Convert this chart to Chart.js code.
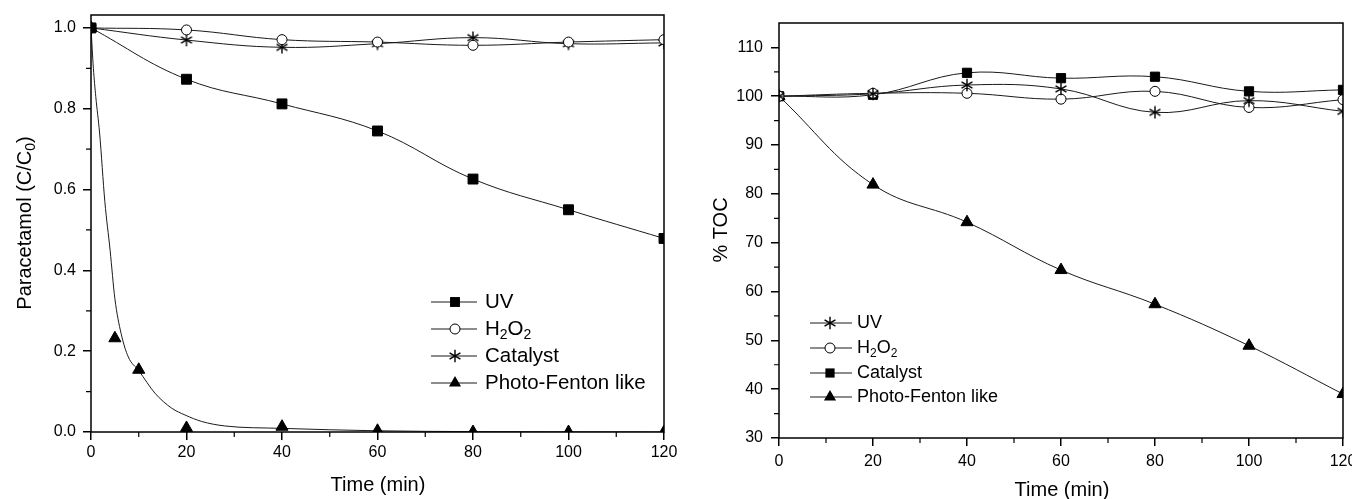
<!DOCTYPE html>
<html><head><meta charset="utf-8">
<script src="https://cdn.jsdelivr.net/npm/chart.js@4.4.0/dist/chart.umd.min.js"></script>
<style>
html,body{margin:0;padding:0;background:#fff;width:1352px;height:499px;overflow:hidden}
#wl{position:absolute;left:0;top:0;width:680px;height:499px}
#wr{position:absolute;left:680px;top:0;width:672px;height:499px}
</style></head><body>
<div id="wl"><canvas id="cl"></canvas></div>
<div id="wr"><canvas id="cr"></canvas></div>
<script>
// ---------- Left chart data ----------
const leftTime = [0, 20, 40, 60, 80, 100, 120];
const leftUV = [1.0, 0.873, 0.812, 0.745, 0.626, 0.550, 0.479];
const leftH2O2 = [1.0, 0.995, 0.971, 0.965, 0.957, 0.965, 0.971];
const leftCatalyst = [1.0, 0.970, 0.952, 0.961, 0.976, 0.961, 0.963];
const leftPFTime = [0, 5, 10, 20, 40, 60, 80, 100, 120];
const leftPF = [1.0, 0.232, 0.154, 0.010, 0.013, 0.003, 0.0, 0.0, 0.0];
const leftPFFitTime = [0, 0.5, 1, 1.8, 2.9, 4, 5, 6.3, 7.8, 10, 13.4, 16.9, 19.7, 23.2, 28, 40, 60, 80, 120];
const leftPFFit = [1.0, 0.90, 0.83, 0.74, 0.57, 0.45, 0.33, 0.244, 0.186, 0.152, 0.096, 0.059, 0.042, 0.026, 0.015, 0.009, 0.003, 0.001, 0.0];
const leftXTicks = [0, 20, 40, 60, 80, 100, 120];
const leftXMinor = [10, 30, 50, 70, 90, 110];
const leftYTicks = [0, 0.2, 0.4, 0.6, 0.8, 1.0];
const leftYTickLabels = ['0.0', '0.2', '0.4', '0.6', '0.8', '1.0'];
const leftYMinor = [0.1, 0.3, 0.5, 0.7, 0.9];

// ---------- Right chart data ----------
const rightTime = [0, 20, 40, 60, 80, 100, 120];
const rightUV = [100, 100.5, 102.3, 101.5, 96.7, 99.1, 96.9];
const rightH2O2 = [100, 100.6, 100.6, 99.4, 101.0, 97.7, 99.3];
const rightCatalyst = [100, 100.3, 104.8, 103.7, 104.0, 101.0, 101.3];
const rightPF = [100, 81.9, 74.2, 64.4, 57.4, 48.9, 39.0];
const rightXTicks = [0, 20, 40, 60, 80, 100, 120];
const rightXMinor = [10, 30, 50, 70, 90, 110];
const rightYTicks = [30, 40, 50, 60, 70, 80, 90, 100, 110];
const rightYMinor = [35, 45, 55, 65, 75, 85, 95, 105];

const FONT = "'Liberation Sans', Arial, sans-serif";

function makeStar(size, lw) {
  const c = document.createElement('canvas');
  c.width = c.height = size;
  const g = c.getContext('2d');
  g.strokeStyle = '#000'; g.lineWidth = lw;
  const cx = size / 2, cy = size / 2, r = size / 2 - 0.7;
  g.beginPath();
  for (const a of [90, 30, 150]) {
    const rad = a * Math.PI / 180;
    g.moveTo(cx + r * Math.cos(rad), cy - r * Math.sin(rad));
    g.lineTo(cx - r * Math.cos(rad), cy + r * Math.sin(rad));
  }
  g.stroke();
  return c;
}
const starL = makeStar(14, 1.4);
const starR = makeStar(14, 1.4);

function pts(xs, ys) { return xs.map((x, i) => ({ x: x, y: ys[i] })); }

const LINE = '#1a1a1a';
function series(data, style, opts) {
  return Object.assign({
    data: data, borderColor: LINE, borderWidth: 1, tension: 0.4, clip: 0,
    pointStyle: style, pointBorderColor: '#000', pointBackgroundColor: '#000',
    pointBorderWidth: 1, pointRadius: 6, pointHoverRadius: 6
  }, opts || {});
}

function drawParts(ctx, parts, x, y, size, align) {
  const sub = Math.round(size * 0.68);
  let w = 0;
  for (const p of parts) { ctx.font = (p[1] ? sub : size) + 'px ' + FONT; w += ctx.measureText(p[0]).width; }
  let cx = align === 'center' ? x - w / 2 : x;
  ctx.textAlign = 'left'; ctx.textBaseline = 'middle';
  for (const p of parts) {
    ctx.font = (p[1] ? sub : size) + 'px ' + FONT;
    ctx.fillText(p[0], cx, y + (p[1] ? size * 0.32 : 0));
    cx += ctx.measureText(p[0]).width;
  }
}

function drawMarker(ctx, kind, x, y, r, star) {
  ctx.save();
  ctx.fillStyle = '#000'; ctx.strokeStyle = '#000'; ctx.lineWidth = 1;
  if (kind === 'rect') {
    const s = Math.SQRT1_2 * r;
    ctx.fillRect(x - s, y - s, 2 * s, 2 * s);
  } else if (kind === 'circle') {
    ctx.beginPath(); ctx.arc(x, y, r, 0, Math.PI * 2);
    ctx.fillStyle = '#fff'; ctx.fill(); ctx.stroke();
  } else if (kind === 'triangle') {
    ctx.beginPath();
    ctx.moveTo(x, y - r);
    ctx.lineTo(x + r * Math.sin(2 * Math.PI / 3), y + r / 2);
    ctx.lineTo(x - r * Math.sin(2 * Math.PI / 3), y + r / 2);
    ctx.closePath(); ctx.fill();
  } else if (kind === 'star') {
    ctx.drawImage(star, x - star.width / 2, y - star.height / 2);
  }
  ctx.restore();
}

function decorPlugin(cfg) {
  return {
    id: 'decor',
    afterDraw(chart) {
      const ctx = chart.ctx, a = chart.chartArea;
      const xs = chart.scales.x, ys = chart.scales.y;
      ctx.save();
      ctx.strokeStyle = '#000'; ctx.lineWidth = 1.5;
      ctx.strokeRect(a.left, a.top, a.right - a.left, a.bottom - a.top);
      ctx.lineWidth = 1.2;
      ctx.beginPath();
      for (const v of cfg.xMinor) { const p = xs.getPixelForValue(v); ctx.moveTo(p, a.bottom); ctx.lineTo(p, a.bottom + 5); }
      for (const v of cfg.yMinor) { const p = ys.getPixelForValue(v); ctx.moveTo(a.left - 5, p); ctx.lineTo(a.left, p); }
      ctx.stroke();
      ctx.fillStyle = '#000';
      drawParts(ctx, [['Time (min)', false]], cfg.xTitle[0], cfg.xTitle[1], cfg.titleSize, 'center');
      ctx.save();
      ctx.translate(cfg.yTitle[0], cfg.yTitle[1]);
      ctx.rotate(-Math.PI / 2);
      drawParts(ctx, cfg.yTitleParts, 0, 0, cfg.titleSize, 'center');
      ctx.restore();
      const L = cfg.legend;
      L.items.forEach((it, i) => {
        const y = L.rows[i];
        ctx.strokeStyle = LINE; ctx.lineWidth = 1;
        ctx.beginPath(); ctx.moveTo(L.x1, y); ctx.lineTo(L.x2, y); ctx.stroke();
        drawMarker(ctx, it.kind, L.xm, y, it.r, cfg.star);
        ctx.fillStyle = '#000';
        drawParts(ctx, it.parts, L.xt, y, L.size, 'left');
      });
      ctx.restore();
    }
  };
}

function fixedScales(yWidth, xHeight) {
  return {
    x: {
      type: 'linear', min: 0, max: 120,
      afterFit(s) { s.height = xHeight; s.paddingLeft = 0; s.paddingRight = 0; },
      grid: { display: true, drawOnChartArea: false, drawTicks: true, tickLength: 8, color: '#000', lineWidth: 1.5 },
      border: { display: false },
      ticks: { color: '#000', font: { family: FONT, size: 16 }, padding: 3, maxRotation: 0, autoSkip: false }
    },
    y: {
      type: 'linear',
      afterFit(s) { s.width = yWidth; s.paddingTop = 0; s.paddingBottom = 0; },
      grid: { display: true, drawOnChartArea: false, drawTicks: true, tickLength: 8, color: '#000', lineWidth: 1.5 },
      border: { display: false },
      ticks: { color: '#000', font: { family: FONT, size: 16 }, padding: 7, autoSkip: false }
    }
  };
}

// ---------- Left chart ----------
const lScales = fixedScales(91, 499 - 432);
lScales.x.afterBuildTicks = s => { s.ticks = leftXTicks.map(v => ({ value: v })); };
lScales.y.min = 0; lScales.y.max = 1.032;
lScales.y.afterBuildTicks = s => { s.ticks = leftYTicks.map(v => ({ value: v })); };
lScales.y.ticks.callback = v => leftYTickLabels[leftYTicks.indexOf(v)];

new Chart(document.getElementById('cl'), {
  type: 'line',
  data: {
    datasets: [
      series(pts(leftTime, leftUV), 'rect', { pointRadius: 7 }),
      series(pts(leftTime, leftH2O2), 'circle', { pointBackgroundColor: '#fff', pointRadius: 5 }),
      series(pts(leftTime, leftCatalyst), starL, {}),
      series(pts(leftPFTime, leftPF), 'triangle', { showLine: false, pointRadius: 7 }),
      series(pts(leftPFFitTime, leftPFFit), 'circle', { pointRadius: 0, pointHoverRadius: 0, cubicInterpolationMode: 'monotone' })
    ]
  },
  options: {
    responsive: true, maintainAspectRatio: false, animation: false, events: [],
    layout: { padding: { left: 0, top: 15, right: 16, bottom: 0 } },
    plugins: { legend: { display: false }, tooltip: { enabled: false } },
    scales: lScales
  },
  plugins: [decorPlugin({
    xMinor: leftXMinor, yMinor: leftYMinor, titleSize: 20, star: starL,
    xTitle: [378, 485], yTitle: [25, 223],
    yTitleParts: [['Paracetamol (C/C', false], ['0', true], [')', false]],
    legend: {
      x1: 431, x2: 477, xm: 455, xt: 485, size: 20.5, rows: [302, 329, 356, 383],
      items: [
        { kind: 'rect', r: 7, parts: [['UV', false]] },
        { kind: 'circle', r: 5, parts: [['H', false], ['2', true], ['O', false], ['2', true]] },
        { kind: 'star', r: 6, parts: [['Catalyst', false]] },
        { kind: 'triangle', r: 7, parts: [['Photo-Fenton like', false]] }
      ]
    }
  })]
});

// ---------- Right chart ----------
const rScales = fixedScales(99, 499 - 438);
rScales.x.afterBuildTicks = s => { s.ticks = rightXTicks.map(v => ({ value: v })); };
rScales.x.ticks.padding = 6;
rScales.y.min = 30; rScales.y.max = 115;
rScales.y.afterBuildTicks = s => { s.ticks = rightYTicks.map(v => ({ value: v })); };
rScales.y.ticks.padding = 8;

new Chart(document.getElementById('cr'), {
  type: 'line',
  data: {
    datasets: [
      series(pts(rightTime, rightUV), starR, {}),
      series(pts(rightTime, rightH2O2), 'circle', { pointBackgroundColor: '#fff', pointRadius: 5 }),
      series(pts(rightTime, rightCatalyst), 'rect', { pointRadius: 6.5 }),
      series(pts(rightTime, rightPF), 'triangle', { pointRadius: 7 })
    ]
  },
  options: {
    responsive: true, maintainAspectRatio: false, animation: false, events: [],
    layout: { padding: { left: 0, top: 23, right: 9, bottom: 0 } },
    plugins: { legend: { display: false }, tooltip: { enabled: false } },
    scales: rScales
  },
  plugins: [decorPlugin({
    xMinor: rightXMinor, yMinor: rightYMinor, titleSize: 20, star: starR,
    xTitle: [382, 490], yTitle: [41, 230],
    yTitleParts: [['% TOC', false]],
    legend: {
      x1: 130, x2: 172, xm: 150, xt: 177, size: 18, rows: [323, 348, 373, 397],
      items: [
        { kind: 'star', r: 6, parts: [['UV', false]] },
        { kind: 'circle', r: 5, parts: [['H', false], ['2', true], ['O', false], ['2', true]] },
        { kind: 'rect', r: 6.5, parts: [['Catalyst', false]] },
        { kind: 'triangle', r: 7, parts: [['Photo-Fenton like', false]] }
      ]
    }
  })]
});
</script>
</body></html>
